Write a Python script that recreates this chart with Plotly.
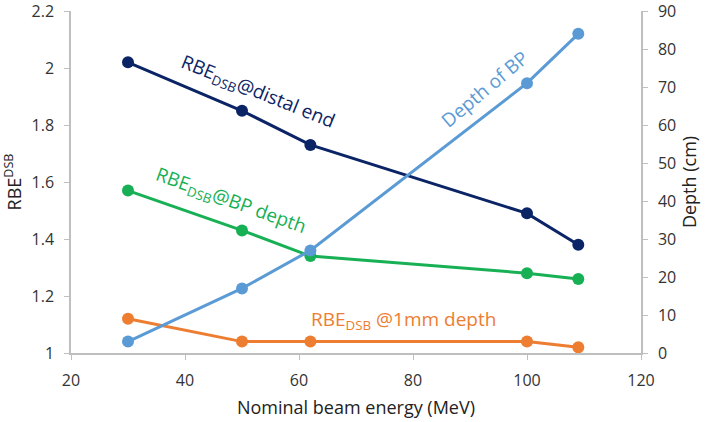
import plotly.graph_objects as go

# ---------------------------------------------------------
# Data
# ---------------------------------------------------------

energy = [30, 50, 62, 100, 109]

rbe_distal = [2.02, 1.85, 1.73, 1.49, 1.38]
rbe_bp = [1.57, 1.43, 1.34, 1.28, 1.26]
rbe_1mm = [1.12, 1.04, 1.04, 1.04, 1.02]
depth_bp = [3, 17, 27, 71, 84]

x_ticks = [20, 40, 60, 80, 100, 120]
rbe_ticks = [1, 1.2, 1.4, 1.6, 1.8, 2, 2.2]
depth_ticks = [0, 10, 20, 30, 40, 50, 60, 70, 80, 90]

NAVY = "#0B2466"
GREEN = "#18B055"
ORANGE = "#ED7D31"
LIGHT_BLUE = "#5B9BD5"
FONT = "Open Sans"

fig = go.Figure()


def add_line(y, color, yaxis="y"):
    fig.add_scatter(
        x=energy,
        y=y,
        yaxis=yaxis,
        mode="lines+markers",
        line=dict(color=color, width=3),
        marker=dict(color=color, size=12),
        showlegend=False,
    )


add_line(rbe_distal, NAVY)
add_line(rbe_bp, GREEN)
add_line(rbe_1mm, ORANGE)
add_line(depth_bp, LIGHT_BLUE, yaxis="y2")

# ---------------------------------------------------------
# In-plot labels
# ---------------------------------------------------------

labels = [
    dict(x=52.8, y=1.915, text="RBE<sub>DSB</sub>@distal end",
         color=NAVY, angle=22),
    dict(x=48.1, y=1.535, text="RBE<sub>DSB</sub>@BP depth",
         color=GREEN, angle=20),
    dict(x=78.4, y=1.115, text="RBE<sub>DSB</sub> @1mm depth",
         color=ORANGE, angle=0),
    dict(x=92.6, y=1.925, text="Depth of BP",
         color=LIGHT_BLUE, angle=-40),
]

for lab in labels:
    fig.add_annotation(
        x=lab["x"],
        y=lab["y"],
        text=lab["text"],
        showarrow=False,
        textangle=lab["angle"],
        font=dict(family=FONT, size=19, color=lab["color"]),
    )

axis_style = dict(
    showline=True,
    linecolor="#BFBFBF",
    linewidth=1.5,
    showgrid=False,
    zeroline=False,
    ticks="outside",
    tickcolor="#BFBFBF",
    ticklen=5,
    automargin=False,
    ticklabeloverflow="allow",
    ticklabelstandoff=7,
    tickfont=dict(family=FONT, size=16, color="#333333"),
)

title_font = dict(family=FONT, size=18, color="#222222")

fig.update_layout(
    width=708,
    height=422,
    plot_bgcolor="white",
    paper_bgcolor="white",
    margin=dict(l=71, r=67, t=11, b=69),
    xaxis=dict(
        range=[20, 120],
        tickvals=x_ticks,
        title=dict(text="Nominal beam energy (MeV)", font=title_font,
                   standoff=11),
        **axis_style,
    ),
    yaxis=dict(
        range=[1, 2.2],
        tickvals=rbe_ticks,
        ticktext=[f"{v:g}" for v in rbe_ticks],
        title=dict(text="RBE<sup>DSB</sup>", font=title_font, standoff=8),
        **axis_style,
    ),
    yaxis2=dict(
        range=[0, 90],
        tickvals=depth_ticks,
        overlaying="y",
        side="right",
        title=dict(text="Depth (cm)", font=title_font, standoff=8),
        **axis_style,
    ),
)

# the page body has a default 8px margin; drop it so the chart sits at 0,0
fig.write_html(
    "out.html",
    config={"displayModeBar": False},
    post_script="document.body.style.margin = '0';",
)
